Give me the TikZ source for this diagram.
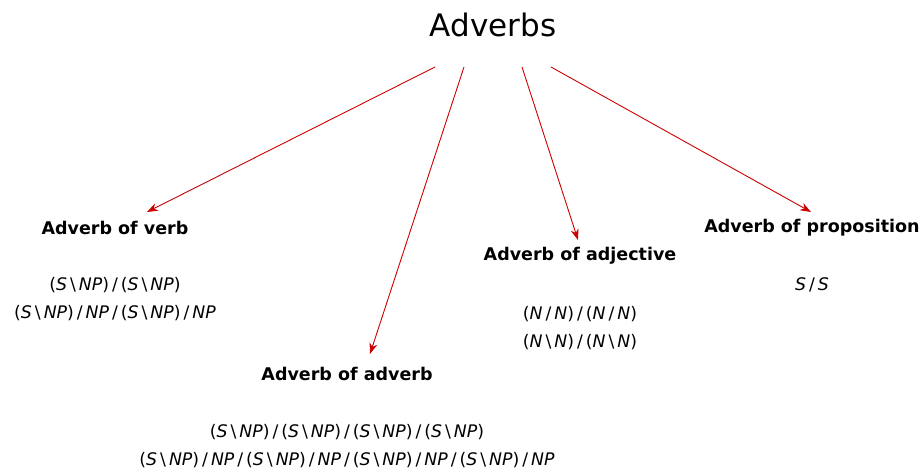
\documentclass[tikz,border=0pt]{standalone}
\usepackage{fontspec}
\setmainfont{DejaVu Sans}
\usetikzlibrary{arrows.meta}
\definecolor{arrred}{HTML}{CC0000}
\newcommand{\cv}[1]{\textit{#1}}
\newcommand{\bsep}{\hspace{3pt}\textbackslash\hspace{3pt}}
\newcommand{\fsep}{\hspace{3pt}/\hspace{3pt}}
\tikzset{
  title/.style={font=\fontsize{31}{36}\selectfont, inner sep=0pt},
  cat/.style={font=\fontsize{17.5}{20}\selectfont\bfseries, inner sep=0pt},
  form/.style={font=\fontsize{17.3}{28}\selectfont, inner sep=0pt, align=center},
  link/.style={draw=arrred, line width=0.9pt, -{Stealth[length=11pt,width=8pt]}}
}
\begin{document}
\begin{tikzpicture}[x=1pt,y=-1pt]
\useasboundingbox (0,0) rectangle (921,470);
\node[title] (root) at (493,25) {Adverbs};
\node[cat] (verb) at (115,228) {Adverb of verb};
\node[form] (verbf) at (115,299) {(\cv{S}\bsep\cv{NP})\fsep(\cv{S}\bsep\cv{NP})\\(\cv{S}\bsep\cv{NP})\fsep\cv{NP}\fsep(\cv{S}\bsep\cv{NP})\fsep\cv{NP}};
\node[cat] (adv) at (347,374) {Adverb of adverb};
\node[form] (advf) at (347,446) {(\cv{S}\bsep\cv{NP})\fsep(\cv{S}\bsep\cv{NP})\fsep(\cv{S}\bsep\cv{NP})\fsep(\cv{S}\bsep\cv{NP})\\(\cv{S}\bsep\cv{NP})\fsep\cv{NP}\fsep(\cv{S}\bsep\cv{NP})\fsep\cv{NP}\fsep(\cv{S}\bsep\cv{NP})\fsep\cv{NP}\fsep(\cv{S}\bsep\cv{NP})\fsep\cv{NP}};
\node[cat] (adj) at (580,256) {Adverb of adjective};
\node[form] (adjf) at (580,328) {(\cv{N}\fsep\cv{N})\fsep(\cv{N}\fsep\cv{N})\\(\cv{N}\bsep\cv{N})\fsep(\cv{N}\bsep\cv{N})};
\node[cat] (prop) at (812,228) {Adverb of proposition};
\node[form] (propf) at (812,285) {\cv{S}\fsep\cv{S}};
\coordinate (s1) at (435,67);
\coordinate (s2) at (464,67);
\coordinate (s3) at (522,67);
\coordinate (s4) at (551,67);
\coordinate (e1) at (147,212);
\coordinate (e2) at (370,354);
\coordinate (e3) at (578,240);
\coordinate (e4) at (811,212);
\draw[link] (s1) -- (e1);
\draw[link] (s2) -- (e2);
\draw[link] (s3) -- (e3);
\draw[link] (s4) -- (e4);
\end{tikzpicture}
\end{document}
